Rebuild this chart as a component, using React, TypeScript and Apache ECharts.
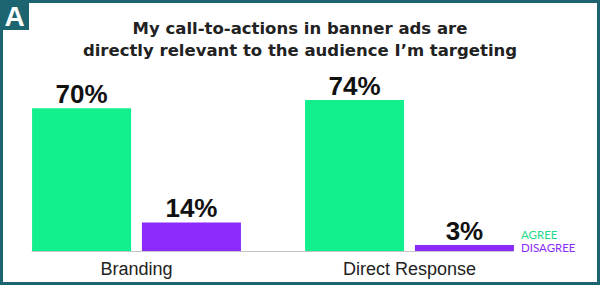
import React, { useEffect, useRef } from "react";
import * as echarts from "echarts";

const categories = ["Branding", "Direct Response"];
const agreeValues = [70, 74];
const disagreeValues = [14, 3];
const seriesNames = ["AGREE", "DISAGREE"];
const titleLines = [
  "My call-to-actions in banner ads are",
  "directly relevant to the audience I\u2019m targeting",
];
const panelLetter = "A";

const GREEN = "#12F08E";
const PURPLE = "#8B2BFB";
const TEAL = "#1C6470";

export default function App() {
  const ref = useRef<HTMLDivElement>(null);
  useEffect(() => {
    if (!ref.current) return;
    const chart = echarts.init(ref.current, null, { renderer: "svg" });
    const label = {
      show: true,
      position: "top",
      distance: 1,
      formatter: "{c}%",
      fontFamily: "Liberation Sans",
      fontWeight: "bold",
      fontSize: 26,
      color: "#111",
    };
    chart.setOption({
      animation: false,
      backgroundColor: "#fff",
      title: {
        text: titleLines.join("\n"),
        left: "center",
        top: 12,
        textStyle: {
          fontFamily: "DejaVu Sans",
          fontWeight: "bold",
          fontSize: 16.5,
          lineHeight: 22,
          color: "#222",
        },
      },
      legend: {
        orient: "vertical",
        left: 516,
        top: 228,
        icon: "none",
        itemWidth: 0,
        itemHeight: 10,
        itemGap: 1,
        padding: 0,
        selectedMode: false,
        data: [
          { name: seriesNames[0], textStyle: { color: "#1ED98A" } },
          { name: seriesNames[1], textStyle: { color: PURPLE } },
        ],
        textStyle: { fontFamily: "Lato", fontSize: 11.5 },
      },
      grid: [
        { left: 0, right: 54, top: 47, bottom: 34 },
        { left: 32, right: 87, top: 47, bottom: 34 },
      ],
      xAxis: [
        {
          type: "category",
          data: categories,
          gridIndex: 0,
          axisLine: { show: false },
          axisTick: { show: false },
          axisLabel: {
            margin: 9,
            fontFamily: "Liberation Sans",
            fontSize: 18,
            color: "#222",
          },
        },
        {
          type: "value",
          gridIndex: 1,
          min: 0,
          max: 1,
          axisLine: { show: true, onZero: false, lineStyle: { color: "#c4c4c4", width: 1 } },
          axisTick: { show: false },
          axisLabel: { show: false },
          splitLine: { show: false },
        },
      ],
      yAxis: [
        { type: "value", gridIndex: 0, min: 0, max: 100, show: false },
        { type: "value", gridIndex: 1, min: 0, max: 1, show: false },
      ],
      series: [
        {
          name: seriesNames[0],
          type: "bar",
          data: agreeValues,
          barWidth: 99,
          barGap: "11%",
          itemStyle: { color: GREEN },
          label,
        },
        {
          name: seriesNames[1],
          type: "bar",
          data: disagreeValues,
          barWidth: 99,
          barGap: "11%",
          itemStyle: { color: PURPLE },
          label,
        },
      ],
      graphic: [
        {
          type: "rect",
          shape: { x: 1.5, y: 1.5, width: 597, height: 282 },
          style: { fill: "none", stroke: TEAL, lineWidth: 3 },
          z: 100,
        },
        {
          type: "rect",
          shape: { x: 0, y: 0, width: 29, height: 30 },
          style: { fill: TEAL },
          z: 100,
        },
        {
          type: "text",
          x: 14.5,
          y: 16,
          style: {
            text: panelLetter,
            fill: "#fff",
            fontFamily: "Liberation Sans",
            fontWeight: "bold",
            fontSize: 28,
            align: "center",
            verticalAlign: "middle",
          },
          z: 101,
        },
      ],
    });
    return () => chart.dispose();
  }, []);
  return (
    <div
      ref={ref}
      style={{ position: "absolute", left: 0, top: 0, width: 600, height: 285 }}
    />
  );
}
